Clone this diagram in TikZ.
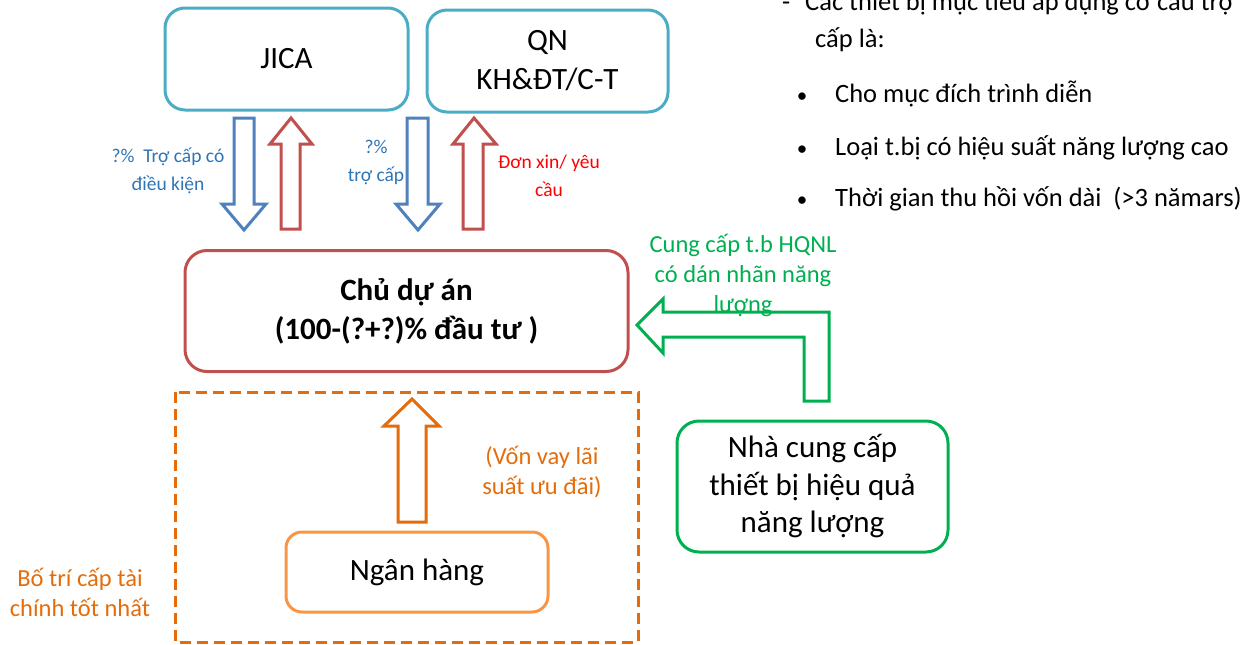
\documentclass[tikz,border=0pt]{standalone}
\usepackage{fontspec}
\setmainfont{Carlito}
\definecolor{teal}{RGB}{75,172,198}
\definecolor{barrow}{RGB}{79,129,189}
\definecolor{rarrow}{RGB}{192,80,77}
\definecolor{btext}{RGB}{46,117,182}
\definecolor{rtext}{RGB}{255,0,0}
\definecolor{grn}{RGB}{0,176,80}
\definecolor{org}{RGB}{228,108,10}
\definecolor{lorg}{RGB}{247,150,70}
\begin{document}
\begin{tikzpicture}[x=1pt,y=-1pt,
  box/.style={draw,line width=3pt,rounded corners=20pt,align=center,inner sep=0pt,font=\fontsize{31}{39}\selectfont},
  barr/.style={draw=barrow,line width=3pt,line join=miter,fill=white},
  rarr/.style={draw=rarrow,line width=3pt,line join=miter,fill=white},
  lbl/.style={align=center,inner sep=0pt,font=\fontsize{19.5}{28}\selectfont},
  lblb/.style={align=center,inner sep=0pt,font=\fontsize{24.5}{30}\selectfont},
  lst/.style={anchor=base west,inner sep=0pt,font=\fontsize{26.5}{30}\selectfont},
  bul/.style={anchor=base,inner sep=0pt,font=\fontsize{21}{24}\selectfont}]
\useasboundingbox (0,0) rectangle (1258,645);

% boxes
\node[box,draw=teal,minimum width=243pt,minimum height=102pt] (jica) at (286.5,59) {JICA};
\node[box,draw=teal,minimum width=241pt,minimum height=102pt] (qn) at (547.5,61) {QN\\KH\&ĐT/C-T};
\node[box,draw=rarrow,minimum width=443pt,minimum height=121pt,rounded corners=22pt,font=\bfseries\fontsize{31}{39}\selectfont] (chu) at (406.5,311) {Chủ dự án\\(100-(?+?)\% đầu tư )};
\node[box,draw=grn,minimum width=271pt,minimum height=131pt,rounded corners=22pt,font=\fontsize{31}{37.5}\selectfont] (ncc) at (812.5,486.5) {Nhà cung cấp\\thiết bị hiệu quả\\năng lượng};
\node[box,draw=lorg,minimum width=262pt,minimum height=80pt,rounded corners=16pt] (nh) at (417,572) {Ngân hàng};
\draw[org,line width=3pt,dash pattern=on 11pt off 6pt] (175,392) rectangle (638,642);

% block arrows
\draw[barr] (234,118)--(254,118)--(254,204)--(266,204)--(244,230)--(222,204)--(234,204)--cycle;
\draw[rarr] (281,229)--(300,229)--(300,144)--(312,144)--(291,118)--(270,144)--(281,144)--cycle;
\draw[barr] (407,118)--(428,118)--(428,204)--(440,204)--(418,230)--(396,204)--(407,204)--cycle;
\draw[rarr] (463,229)--(483,229)--(483,144)--(496,144)--(474,118)--(453,144)--(463,144)--cycle;
\draw[draw=org,line width=3pt,line join=miter] (398,522)--(426,522)--(426,426)--(439,426)--(412,399)--(384,426)--(398,426)--cycle;
\draw[draw=grn,line width=3pt,line join=miter] (829,401)--(804,401)--(804,337)--(663,337)--(663,353)--(637,325)--(663,299)--(663,312)--(829,312)--cycle;

% labels
\node[lbl,text=btext] (l1) at (168,171) {?\%\ \ Trợ cấp có\\điều kiện};
\node[lbl,text=btext] (l2) at (376,162) {?\%\\trợ cấp};
\node[lbl,text=rtext] (l3) at (549,176) {Đơn xin/ yêu\\cầu};
\node[lblb,text=grn] (l4) at (743,275) {Cung cấp t.b HQNL\\có dán nhãn năng\\lượng};
\node[lblb,text=org] (l5) at (542,472) {(Vốn vay lãi\\suất ưu đãi)};
\node[lblb,text=org] (l6) at (80,592) {Bố trí cấp tài\\chính tốt nhất};

% list
\node[lst] (d0) at (782,10) {-};
\node[lst] (t0) at (805,10) {Các thiết bị mục tiêu áp dụng cơ cấu trợ};
\node[lst] (t1) at (815,47) {cấp là:};
\node[bul] (b1) at (802,102) {•};
\node[lst] (t2) at (835,102) {Cho mục đích trình diễn};
\node[bul] (b2) at (802,155) {•};
\node[lst] (t3) at (835,155) {Loại t.bị có hiệu suất năng lượng cao};
\node[bul] (b3) at (802,206) {•};
\node[lst] (t4) at (835,206) {Thời gian thu hồi vốn dài\ \ (>3 nămars)};
\end{tikzpicture}
\end{document}
